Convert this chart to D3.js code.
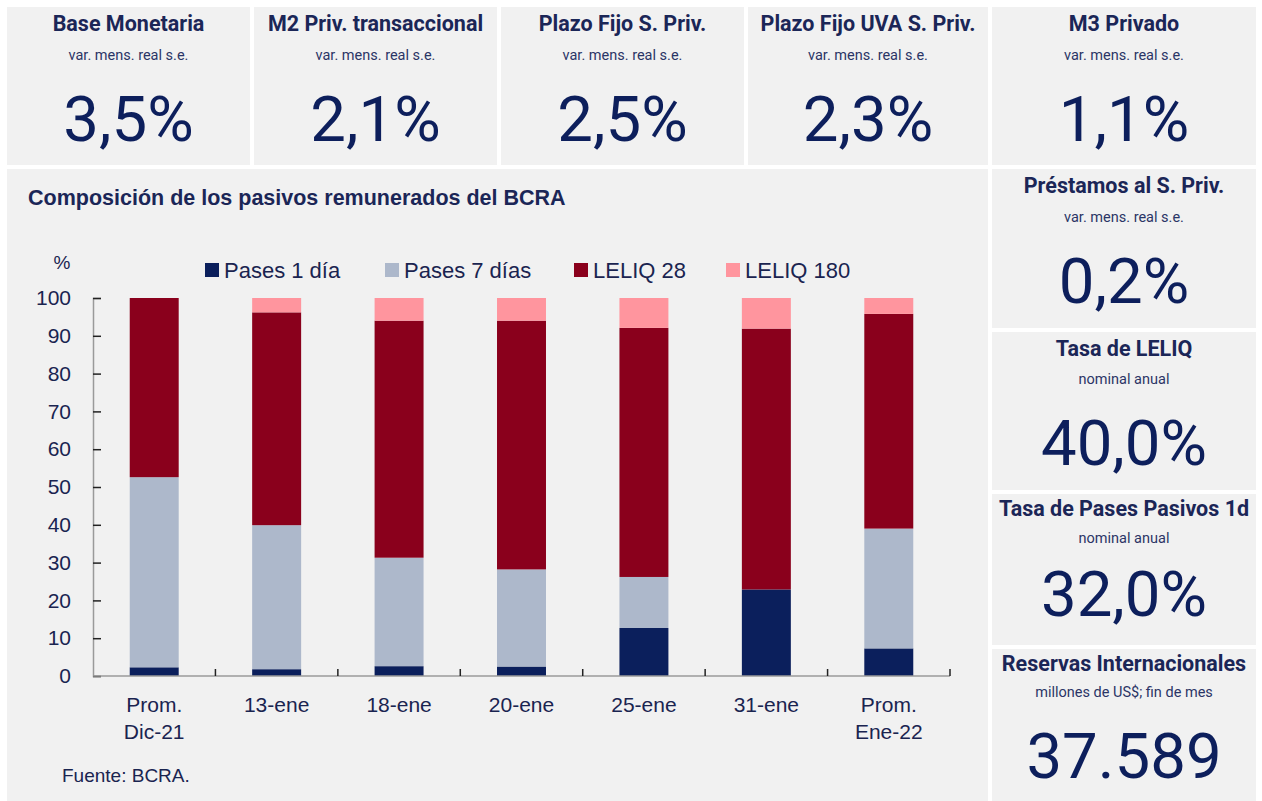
<!DOCTYPE html>
<html>
<head>
<meta charset="utf-8">
<script src="https://cdn.jsdelivr.net/npm/d3@7"></script>
<style>
  body { margin: 0; background: #fff; }
  svg text { font-family: "Liberation Sans", Arial, sans-serif; }
  .card-title { font-family: Roboto, sans-serif; font-weight: 700; font-size: 21.5px; fill: #1b2657; }
  .card-sub { font-family: Roboto, sans-serif; font-size: 14.5px; fill: #2b3566; }
  .card-value { font-family: Roboto, sans-serif; font-size: 63.5px; fill: #0d1f5c; }
  .axis text { font-family: "Liberation Sans", Arial, sans-serif; font-size: 21px; fill: #1a2450; }
</style>
</head>
<body>
<div id="chart"></div>
<script>
// --- tarjetas ---
const cardTitles = ["Base Monetaria", "M2 Priv. transaccional", "Plazo Fijo S. Priv.", "Plazo Fijo UVA S. Priv.", "M3 Privado",
                    "Préstamos al S. Priv.", "Tasa de LELIQ", "Tasa de Pases Pasivos 1d", "Reservas Internacionales"];
const cardSubs = ["var. mens. real s.e.", "var. mens. real s.e.", "var. mens. real s.e.", "var. mens. real s.e.", "var. mens. real s.e.",
                  "var. mens. real s.e.", "nominal anual", "nominal anual", "millones de US$; fin de mes"];
const cardValues = ["3,5%", "2,1%", "2,5%", "2,3%", "1,1%", "0,2%", "40,0%", "32,0%", "37.589"];

// --- grafico ---
const categories = [["Prom.", "Dic-21"], ["13-ene"], ["18-ene"], ["20-ene"], ["25-ene"], ["31-ene"], ["Prom.", "Ene-22"]];
const seriesNames = ["Pases 1 día", "Pases 7 días", "LELIQ 28", "LELIQ 180"];
const pases1 = [2.3, 1.8, 2.6, 2.5, 12.7, 22.9, 7.3];
const pases7 = [50.3, 38.1, 28.7, 25.7, 13.5, 0, 31.7];
const leliq28 = [47.4, 56.3, 62.7, 65.8, 65.9, 69.0, 56.8];
const leliq180 = [0, 3.8, 6.0, 6.0, 7.9, 8.1, 4.2];
const yTicks = [0, 10, 20, 30, 40, 50, 60, 70, 80, 90, 100];

const colors = ["#0b1f5c", "#adb8cb", "#8a001c", "#ff959e"];

const W = 1262, H = 801;
const svg = d3.select("#chart").append("svg")
    .attr("width", W)
    .attr("height", H);

// posiciones de las tarjetas: x, y, ancho, alto, offsets de texto
const cardBoxes = [
    [7, 7, 243, 158, 24, 53, 134],
    [254, 7, 243, 158, 24, 53, 134],
    [501, 7, 243, 158, 24, 53, 134],
    [748, 7, 240, 158, 24, 53, 134],
    [992, 7, 264, 158, 24, 53, 134],
    [992, 169, 264, 159, 24, 53, 134],
    [992, 332, 264, 158, 24, 52, 133],
    [992, 494, 264, 151, 22, 49, 122],
    [992, 649, 264, 152, 22, 48, 129]
];

const cards = svg.selectAll(".card")
    .data(cardTitles.map((t, i) => ({ title: t, sub: cardSubs[i], value: cardValues[i], box: cardBoxes[i] })))
    .enter()
    .append("g")
    .attr("class", "card")
    .attr("transform", d => `translate(${d.box[0]},${d.box[1]})`);

cards.append("rect")
    .attr("width", d => d.box[2])
    .attr("height", d => d.box[3])
    .attr("fill", "#f1f1f1");

cards.append("text")
    .attr("class", "card-title")
    .attr("x", d => d.box[2] / 2)
    .attr("y", d => d.box[4])
    .attr("text-anchor", "middle")
    .text(d => d.title);

cards.append("text")
    .attr("class", "card-sub")
    .attr("x", d => d.box[2] / 2)
    .attr("y", d => d.box[5])
    .attr("text-anchor", "middle")
    .text(d => d.sub);

cards.append("text")
    .attr("class", "card-value")
    .attr("x", d => d.box[2] / 2)
    .attr("y", d => d.box[6])
    .attr("text-anchor", "middle")
    .text(d => d.value);

// panel del grafico
svg.append("rect")
    .attr("x", 7).attr("y", 169)
    .attr("width", 981).attr("height", 632)
    .attr("fill", "#f1f1f1");

svg.append("text")
    .attr("x", 28).attr("y", 205)
    .attr("font-family", "Roboto, sans-serif")
    .attr("font-weight", 700)
    .attr("font-size", 21.5)
    .attr("fill", "#1b2657")
    .text("Composición de los pasivos remunerados del BCRA");

// --- datos apilados ---
const keys = categories.map(c => c.join(" "));
const table = keys.map((k, i) => ({ cat: k, s0: pases1[i], s1: pases7[i], s2: leliq28[i], s3: leliq180[i] }));
const stacked = d3.stack().keys(["s0", "s1", "s2", "s3"])(table);

const x = d3.scaleBand()
    .domain(keys)
    .range([93, 950])
    .paddingInner(0.6)
    .paddingOuter(0.3);

const y = d3.scaleLinear()
    .domain([0, 100])
    .range([676, 298]);

// barras
svg.append("g")
    .selectAll("g")
    .data(stacked)
    .enter()
    .append("g")
    .attr("fill", (d, i) => colors[i])
    .selectAll("rect")
    .data(d => d)
    .enter()
    .append("rect")
    .attr("x", d => x(d.data.cat))
    .attr("width", x.bandwidth())
    .attr("y", d => y(d[1]))
    .attr("height", d => y(d[0]) - y(d[1]));

// eje Y
const yAxis = svg.append("g")
    .attr("class", "axis")
    .attr("transform", "translate(93,0)")
    .call(d3.axisLeft(y).tickValues(yTicks).tickSize(-8).tickPadding(22));
yAxis.select(".domain").attr("stroke", "#9a9a9a").attr("stroke-width", 1.5);
yAxis.selectAll(".tick line").attr("stroke", "#222").attr("stroke-width", 1.5);

// eje X
const step = x.step();
const xBreaks = d3.range(keys.length + 1).map(i => x(keys[0]) - step * x.paddingOuter() + i * step);
svg.append("line")
    .attr("x1", 93).attr("x2", xBreaks[xBreaks.length - 1])
    .attr("y1", y(0)).attr("y2", y(0))
    .attr("stroke", "#9a9a9a").attr("stroke-width", 1.5);
svg.selectAll(".xtick")
    .data(xBreaks.slice(1))
    .enter()
    .append("line")
    .attr("class", "xtick")
    .attr("x1", d => d).attr("x2", d => d)
    .attr("y1", y(0)).attr("y2", y(0) - 7)
    .attr("stroke", "#222").attr("stroke-width", 1.5);

const xLabels = svg.append("g")
    .attr("class", "axis")
    .selectAll("text")
    .data(categories)
    .enter()
    .append("text")
    .attr("x", (d, i) => x(keys[i]) + x.bandwidth() / 2)
    .attr("y", 712)
    .attr("text-anchor", "middle");
xLabels.selectAll("tspan")
    .data(d => d)
    .enter()
    .append("tspan")
    .attr("x", function() { return this.parentNode.getAttribute("x"); })
    .attr("dy", (d, i) => i === 0 ? 0 : 27)
    .text(d => d);

// unidad
svg.append("text")
    .attr("x", 62).attr("y", 269)
    .attr("text-anchor", "middle")
    .attr("font-size", 19)
    .attr("fill", "#1a2450")
    .text("%");

// leyenda
const legendX = [205, 385, 574, 726];
const legend = svg.selectAll(".legend")
    .data(seriesNames)
    .enter()
    .append("g")
    .attr("class", "legend")
    .attr("transform", (d, i) => `translate(${legendX[i]},263)`);
legend.append("rect")
    .attr("width", 14).attr("height", 14)
    .attr("fill", (d, i) => colors[i]);
legend.append("text")
    .attr("x", 19).attr("y", 14.5)
    .attr("font-size", 22)
    .attr("fill", "#1a2450")
    .text(d => d);

// fuente
svg.append("text")
    .attr("x", 62).attr("y", 782)
    .attr("font-size", 19)
    .attr("fill", "#1a2450")
    .text("Fuente: BCRA.");
</script>
</body>
</html>
